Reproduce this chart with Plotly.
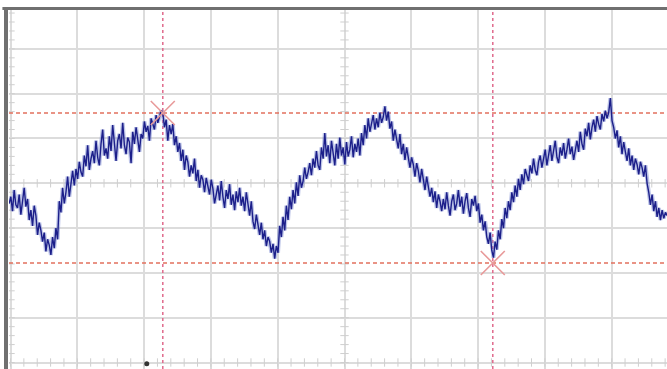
import numpy as np
import plotly.graph_objects as go

# Sampled waveform (vertical divisions), one sample every 0.025 horizontal divisions
t_start = -0.02
t_step = 0.025
signal = [
    -0.45, -0.30, -0.62, -0.15, -0.48, -0.55, -0.25, -0.70, -0.40, -0.10,
    -0.52, -0.35, -0.82, -0.60, -0.95, -0.50, -0.72, -1.15, -0.88, -1.05,
    -1.30, -1.10, -1.52, -1.25, -1.38, -1.60, -1.20, -1.45, -1.00, -1.25,
    -0.40, -0.65, -0.10, -0.45, -0.20, 0.15, -0.30, 0.05, 0.28, -0.05,
    0.32, 0.10, 0.48, 0.25, 0.15, 0.62, 0.38, 0.85, 0.30, 0.55,
    0.72, 0.45, 0.95, 0.58, 0.40, 0.88, 1.20, 0.62, 0.78, 0.55,
    1.05, 0.72, 1.30, 0.90, 0.50, 0.95, 1.10, 0.78, 1.35, 0.85,
    0.65, 1.02, 0.92, 0.45, 1.15, 0.88, 1.25, 0.98, 0.70, 1.10,
    1.00, 1.38, 1.15, 1.28, 0.95, 1.45, 1.30, 1.20, 1.52, 1.35,
    1.48, 1.62, 1.57, 1.25, 1.42, 0.95, 1.30, 1.10, 1.32, 0.85,
    1.05, 0.70, 0.90, 0.50, 0.75, 0.30, 0.62, 0.48, 0.15, 0.40,
    0.22, 0.55, 0.05, 0.30, -0.10, 0.18, 0.08, -0.20, 0.12, -0.05,
    -0.25, 0.08, -0.12, -0.45, -0.20, -0.05, -0.38, 0.05, -0.30, -0.55,
    -0.15, -0.35, -0.02, -0.48, -0.25, -0.60, -0.18, -0.42, -0.10, -0.50,
    -0.30, -0.62, -0.20, -0.48, -0.72, -0.40, -0.85, -1.02, -0.70, -0.92,
    -1.15, -0.88, -1.25, -1.05, -1.40, -1.20, -1.30, -1.55, -1.35, -1.68,
    -1.40, -1.55, -0.95, -1.20, -0.75, -1.05, -0.50, -0.82, -0.30, -0.58,
    -0.15, -0.45, 0.02, -0.28, 0.18, -0.10, 0.05, 0.35, 0.10, 0.25,
    0.45, 0.18, 0.55, 0.35, 0.72, 0.40, 0.30, 0.80, 0.55, 1.12,
    0.60, 0.85, 0.45, 0.95, 0.72, 0.40, 0.88, 0.55, 1.02, 0.62,
    0.80, 0.42, 0.92, 0.60, 0.75, 1.05, 0.58, 0.88, 0.70, 1.00,
    0.62, 1.12, 0.85, 1.30, 1.00, 1.45, 1.15, 1.35, 1.52, 1.20,
    1.45, 1.25, 1.58, 1.35, 1.48, 1.72, 1.40, 1.60, 1.22, 1.38,
    0.95, 1.20, 1.02, 0.78, 1.10, 0.65, 0.88, 0.52, 0.80, 0.60,
    0.35, 0.58, 0.42, 0.15, 0.45, 0.28, 0.02, 0.32, 0.10, -0.15,
    0.15, -0.05, -0.30, -0.10, -0.42, -0.18, -0.55, -0.25, -0.40, -0.62,
    -0.35, -0.58, -0.20, -0.50, -0.72, -0.40, -0.25, -0.60, -0.45, -0.15,
    -0.52, -0.30, -0.68, -0.40, -0.22, -0.55, -0.75, -0.35, -0.50, -0.28,
    -0.62, -0.45, -0.88, -0.70, -1.05, -0.85, -1.20, -1.35, -1.10, -1.50,
    -1.66, -1.30, -1.48, -1.05, -1.25, -0.80, -1.00, -0.55, -0.78, -0.40,
    -0.60, -0.20, -0.42, -0.05, -0.30, 0.10, -0.15, 0.20, -0.02, 0.32,
    0.15, 0.05, 0.40, 0.22, 0.55, 0.30, 0.18, 0.48, 0.62, 0.35,
    0.55, 0.75, 0.40, 0.68, 0.85, 0.50, 0.72, 0.95, 0.58, 0.45,
    0.80, 0.62, 0.90, 0.55, 0.75, 1.00, 0.65, 0.82, 0.52, 0.78,
    0.95, 0.70, 1.15, 0.88, 0.75, 1.22, 1.05, 1.35, 0.98, 1.25,
    1.42, 1.15, 1.50, 1.32, 1.20, 1.55, 1.38, 1.62, 1.45, 1.58,
    1.90, 1.40, 1.25, 1.00, 1.18, 0.80, 1.05, 0.65, 0.92, 0.70,
    0.50, 0.78, 0.40, 0.62, 0.30, 0.55, 0.42, 0.20, 0.48, 0.35,
    0.15, 0.40, 0.00, -0.20, -0.48, -0.25, -0.62, -0.40, -0.75, -0.55,
    -0.82, -0.60, -0.78, -0.65, -0.72,
]
t = t_start + t_step * np.arange(len(signal))

# Cursor positions (divisions)
cursor_t = [2.28, 7.22]
cursor_v = [1.57, -1.78]

# Screen geometry (divisions)
x_range = [-0.0225, 9.828]
y_range = [-4.145, 3.868]
center_t = 5
center_v = 0
grid_color = "#dcdcdc"
tick_color = "#cfcfcf"

fig = go.Figure()

# graticule minor ticks: left edge, bottom edge and the two centre lines
minor = np.arange(-4, 4.01, 0.2)
minor_t = np.arange(0, 10.01, 0.2)
tick_marker = dict(size=6, line=dict(color=tick_color, width=1))
fig.add_trace(go.Scatter(x=np.zeros_like(minor), y=minor, mode="markers",
                         marker=dict(symbol="line-ew", **tick_marker),
                         hoverinfo="skip", showlegend=False))
fig.add_trace(go.Scatter(x=np.full_like(minor, center_t), y=minor, mode="markers",
                         marker=dict(symbol="line-ew", **tick_marker),
                         hoverinfo="skip", showlegend=False))
fig.add_trace(go.Scatter(x=minor_t, y=np.full_like(minor_t, center_v), mode="markers",
                         marker=dict(symbol="line-ns", **tick_marker),
                         hoverinfo="skip", showlegend=False))
fig.add_trace(go.Scatter(x=minor_t, y=np.full_like(minor_t, -4.0), mode="markers",
                         marker=dict(symbol="line-ns", **tick_marker),
                         hoverinfo="skip", showlegend=False))

# cursor lines
for ct in cursor_t:
    fig.add_trace(go.Scatter(x=[ct, ct], y=y_range, mode="lines",
                             line=dict(color="#e06a8c", width=1.5, dash="dot"),
                             hoverinfo="skip", showlegend=False))
for cv in cursor_v:
    fig.add_trace(go.Scatter(x=x_range, y=[cv, cv], mode="lines",
                             line=dict(color="#e2705e", width=1.5, dash="4px,3px"),
                             hoverinfo="skip", showlegend=False))

# waveform: soft halo plus core trace
fig.add_trace(go.Scatter(x=t, y=signal, mode="lines",
                         line=dict(color="#6e7ecc", width=4.0),
                         opacity=0.45, hoverinfo="skip", showlegend=False))
fig.add_trace(go.Scatter(x=t, y=signal, mode="lines",
                         line=dict(color="#1c1f8a", width=1.4),
                         name="CH1", showlegend=False))

# cursor cross markers
fig.add_trace(go.Scatter(x=cursor_t, y=cursor_v, mode="markers",
                         marker=dict(symbol="x-thin", size=24,
                                     line=dict(color="#e89a9a", width=1.6)),
                         hoverinfo="skip", showlegend=False))

# trigger position dot
fig.add_trace(go.Scatter(x=[2.04], y=[-4.03], mode="markers",
                         marker=dict(symbol="circle", size=5, color="#333333"),
                         hoverinfo="skip", showlegend=False))

axis_common = dict(showgrid=True, gridcolor=grid_color, gridwidth=1.6,
                   zeroline=False, showticklabels=False, ticks="",
                   showline=False, dtick=1, tick0=0, fixedrange=True)
fig.update_xaxes(range=x_range, **axis_common)
fig.update_yaxes(range=y_range, **axis_common)

# instrument bezel: left and top borders
fig.add_shape(type="rect", xref="paper", yref="paper", xsizemode="pixel", xanchor=0,
              x0=-5, x1=-1, y0=0, y1=1, line=dict(width=0), fillcolor="#707070", layer="above")
fig.add_shape(type="rect", xref="paper", yref="paper", ysizemode="pixel", yanchor=1,
              x0=-0.01, x1=1, y0=0, y1=3, line=dict(width=0), fillcolor="#707070", layer="above")

fig.update_layout(width=667, height=369, margin=dict(l=9, r=0, t=10, b=0),
                  paper_bgcolor="white", plot_bgcolor="white")
fig.write_html("out.html")
